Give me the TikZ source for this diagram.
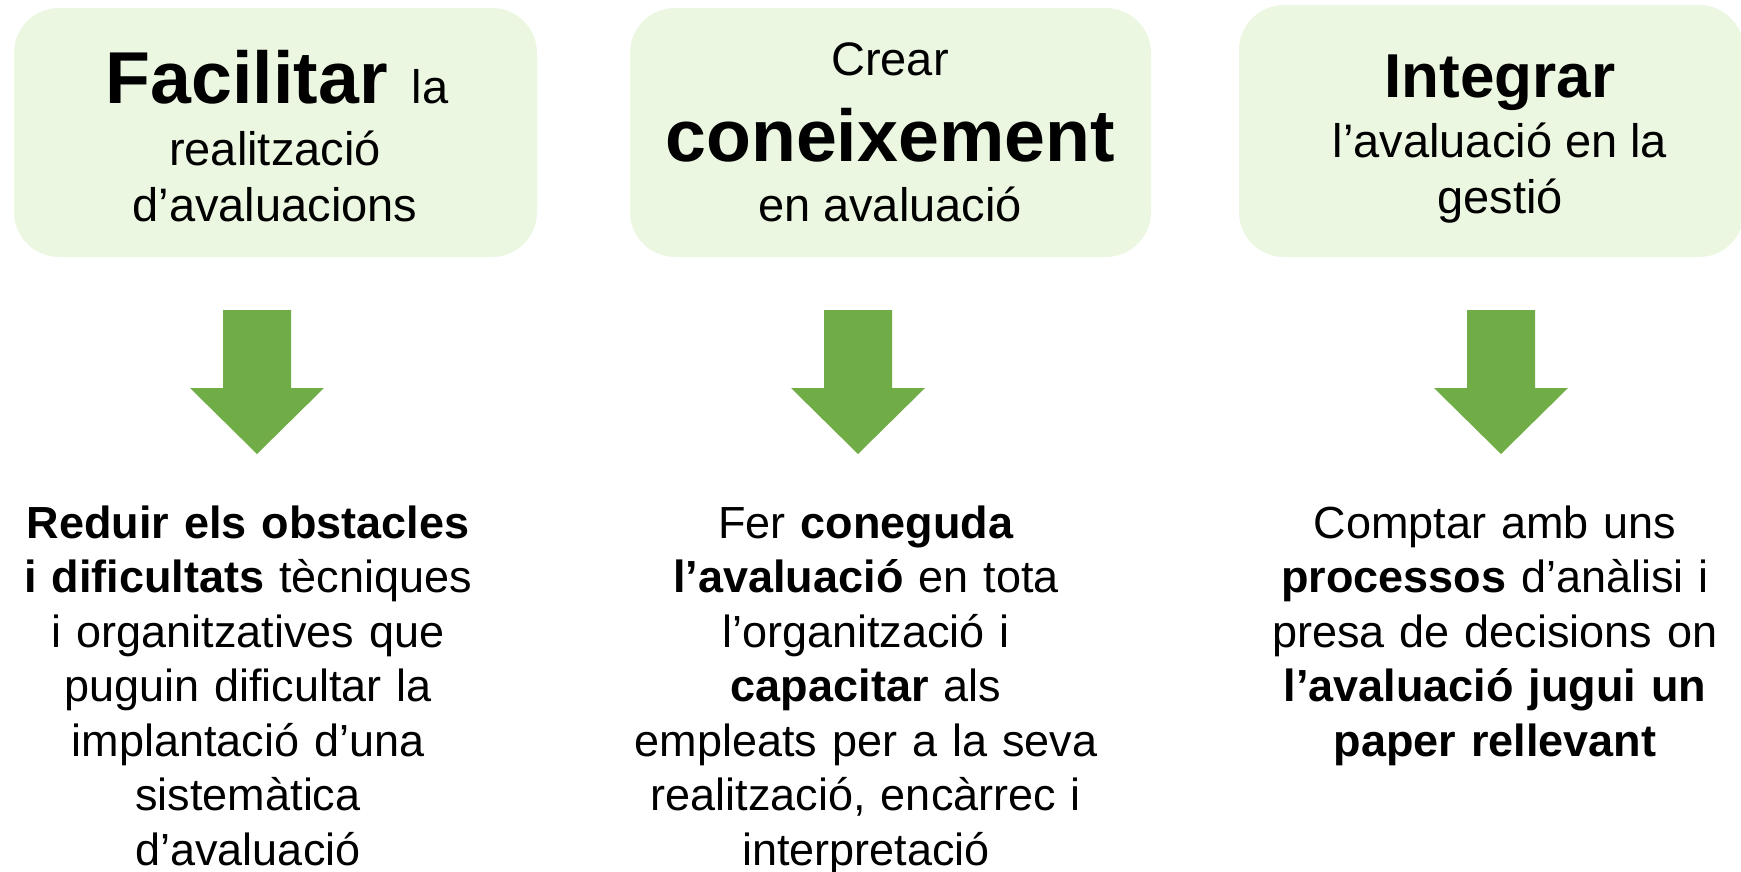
\documentclass[tikz,border=0pt]{standalone}
\usepackage{fontspec}
\setmainfont{Liberation Sans}
\definecolor{boxfill}{RGB}{235,247,225}
\definecolor{arrowgreen}{RGB}{112,173,71}
\begin{document}
\begin{tikzpicture}[x=1pt,y=-1pt,
  box/.style={fill=boxfill,draw=none,rounded corners=45pt,inner sep=0pt},
  bighead/.style={anchor=base,inner sep=0pt,font=\fontsize{#1}{#1}\selectfont\bfseries},
  sub/.style={anchor=base,inner sep=0pt,font=\fontsize{47}{56}\selectfont},
  body/.style={anchor=base,inner sep=0pt,text width=520pt,align=center,font=\fontsize{45}{54.5}\selectfont},
  downarrow/.style={fill=arrowgreen,draw=none}]
\useasboundingbox (0,0) rectangle (1741,872);
% boxes
\node[box,minimum width=523pt,minimum height=249pt] (box1) at (275.5,132.5) {};
\node[box,minimum width=521pt,minimum height=249pt] (box2) at (890.5,132.5) {};
\node[box,minimum width=505pt,minimum height=252pt] (box3) at (1491.5,131) {};
% box 1 text
\node[anchor=base,inner sep=0pt] (t1a) at (277,104) {{\fontsize{73.5}{73.5}\selectfont\bfseries Facilitar}\hspace{24pt}{\fontsize{47}{56}\selectfont la}};
\node[sub] (t1b) at (275,165) {realització};
\node[sub] (t1c) at (275,222) {d’avaluacions};
% box 2 text
\node[sub] (t2a) at (890,76) {Crear};
\node[bighead=73.5] (t2b) at (890,162) {coneixement};
\node[sub] (t2c) at (890,222) {en avaluació};
% box 3 text
\node[bighead=62] (t3a) at (1500,98) {Integrar};
\node[sub] (t3b) at (1500,158) {l’avaluació en la};
\node[sub] (t3c) at (1500,213) {gestió};
% arrows
\foreach \cx in {257,858,1501}
  \fill[downarrow,shift={(\cx,0)}] (-34,310) -- (34,310) -- (34,388) -- (67,388) -- (0,454) -- (-67,388) -- (-34,388) -- cycle;
% bottom texts
\node[body] (b1) at (248,538) {\textbf{Reduir els obstacles}\\\textbf{i dificultats} tècniques\\i organitzatives que\\puguin dificultar la\\implantació d’una\\sistemàtica\\d’avaluació};
\node[body] (b2) at (866,538) {Fer \textbf{coneguda}\\\textbf{l’avaluació} en tota\\l’organització i\\\textbf{capacitar} als\\empleats per a la seva\\realització, encàrrec i\\interpretació};
\node[body] (b3) at (1495,538) {Comptar amb uns\\\textbf{processos} d’anàlisi i\\presa de decisions on\\\textbf{l’avaluació jugui un}\\\textbf{paper rellevant}};
\end{tikzpicture}
\end{document}
